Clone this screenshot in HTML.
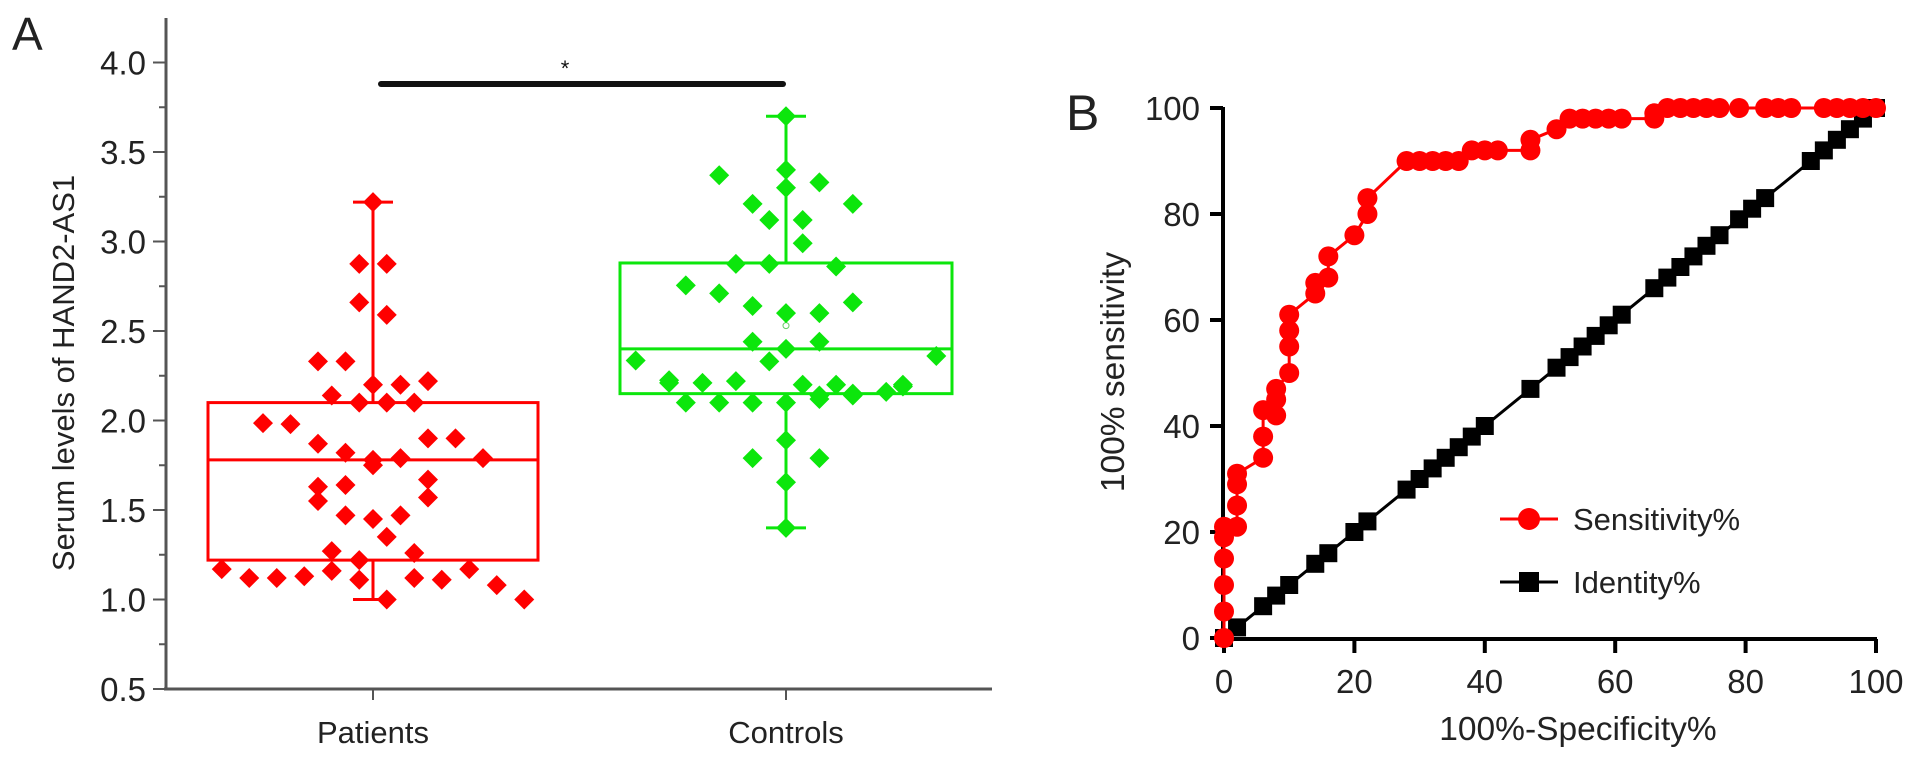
<!DOCTYPE html>
<html><head><meta charset="utf-8"><style>
html,body{margin:0;padding:0;background:#fff;}
svg{display:block;font-family:"Liberation Sans",Arial,sans-serif;}
</style></head><body>
<svg id="fig" width="1913" height="761" viewBox="0 0 1913 761">
<text x="12" y="50" font-size="46" fill="#222">A</text>
<text x="1066" y="130" font-size="50" fill="#222">B</text>
<g id="panelA"></g>
<g id="panelB"></g>
</svg>
<script>
// ---- Panel A data ----
const categories = ["Patients", "Controls"];
const yTicksA = [0.5, 1.0, 1.5, 2.0, 2.5, 3.0, 3.5, 4.0];
const boxPatients = [1.0, 1.22, 1.78, 2.10, 3.22]; // min,q1,median,q3,max
const boxControls = [1.40, 2.15, 2.40, 2.88, 3.70];
const meanControls = 2.53;
const patientValues = [1.985,1.98,1.87,1.82,1.78,1.75,1.79,1.90,1.90,1.79,2.14,2.10,2.10,2.10,2.20,2.20,2.22,1.63,1.55,1.64,1.67,1.57,1.47,1.45,1.47,1.35,1.27,1.22,1.26,1.17,1.12,1.12,1.13,1.16,1.11,1.00,1.12,1.11,1.17,1.08,1.00,3.22,2.875,2.875,2.66,2.59,2.33,2.33];
const patientCols   = [-4,-3,-2,-1,0,0,1,2,3,4,-1.5,-0.5,0.5,1.5,0,1,2,-2,-2,-1,2,2,-1,0,1,0.5,-1.5,-0.5,1.5,-5.5,-4.5,-3.5,-2.5,-1.5,-0.5,0.5,1.5,2.5,3.5,4.5,5.5,0,-0.5,0.5,-0.5,0.5,-2,-1];
const controlValues = [3.70,3.37,3.40,3.30,3.33,3.21,3.21,3.12,3.12,2.99,2.875,2.875,2.86,2.755,2.71,2.64,2.60,2.60,2.66,2.44,2.44,2.40,2.335,2.33,2.36,2.225,2.21,2.22,2.20,2.20,2.20,2.14,2.12,2.10,2.10,2.10,2.10,2.14,2.15,2.16,2.21,2.19,1.89,1.79,1.79,1.655,1.40];
const controlCols   = [0,-2,0,0,1,-1,2,-0.5,0.5,0.5,-1.5,-0.5,1.5,-3,-2,-1,0,1,2,-1,1,0,-4.5,-0.5,4.5,-3.5,-2.5,-1.5,0.5,1.5,3.5,2,1,-3,-2,-1,0,1,2,3,-3.5,3.5,0,-1,1,0,0];
const sigLabel = "*";

// ---- Panel B data ----
const xTicksB = [0, 20, 40, 60, 80, 100];
const yTicksB = [0, 20, 40, 60, 80, 100];
const sensFPR = [0,0,0,0,0,0,2,2,2,2,6,6,6,8,8,8,10,10,10,10,14,14,16,16,20,22,22,28,30,32,34,36,38,40,42,47,47,51,53,55,57,59,61,66,66,68,70,72,74,76,79,83,85,87,92,94,96,98,100];
const sensTPR = [0,5,10,15,19,21,21,25,29,31,34,38,43,42,45,47,50,55,58,61,65,67,68,72,76,80,83,90,90,90,90,90,92,92,92,92,94,96,98,98,98,98,98,98,99,100,100,100,100,100,100,100,100,100,100,100,100,100,100];
const identVals = [0,2,6,8,10,14,16,20,22,28,30,32,34,36,38,40,47,51,53,55,57,59,61,66,68,70,72,74,76,79,81,83,90,92,94,96,98,100];
const legendLabels = ["Sensitivity%", "Identity%"];

const NS = "http://www.w3.org/2000/svg";
function mk(parent, tag, attrs, text) {
  const el = document.createElementNS(NS, tag);
  for (const k in attrs) el.setAttribute(k, attrs[k]);
  if (text !== undefined) el.textContent = text;
  parent.appendChild(el);
  return el;
}

// ===== Panel A =====
const A = document.getElementById("panelA");
const yA = v => 689 - (v - 0.5) * 179;
const xCat = i => [373, 786][i];
const colStep = [27.5, 33.4];
const axA = "#555";
let e;
e = mk(A, "line", {x1:166, y1:18, x2:166, y2:690, stroke:axA, "stroke-width":3});


e = mk(A, "line", {x1:164, y1:689, x2:992, y2:689, stroke:axA, "stroke-width":3});


yTicksA.forEach(v => {
  e = mk(A, "line", {x1:153, y1:yA(v), x2:166, y2:yA(v), stroke:axA, "stroke-width":2});
  
  
  if (v < 4.0) {
    e = mk(A, "line", {x1:159, y1:yA(v + 0.25), x2:166, y2:yA(v + 0.25), stroke:axA, "stroke-width":2});
    
    
  }
  e = mk(A, "text", {x:146, y:yA(v) + 12, "font-size":33, "text-anchor":"end", fill:"#222"}, v.toFixed(1));
  
  
});
e = mk(A, "text", {x:0, y:0, "font-size":31, "text-anchor":"middle", fill:"#222", transform:"translate(74,373) rotate(-90)"}, "Serum levels of HAND2-AS1");


categories.forEach((c, i) => {
  e = mk(A, "line", {x1:xCat(i), y1:689, x2:xCat(i), y2:700, stroke:axA, "stroke-width":2});
  
  
  e = mk(A, "text", {x:xCat(i), y:743, "font-size":31, "text-anchor":"middle", fill:"#222"}, c);
  
  
});

function drawBox(i, b, color, halfW, name) {
  const g = mk(A, "g", {});
  
  
  const cx = xCat(i);
  mk(g, "rect", {x:cx - halfW, y:yA(b[3]), width:2*halfW, height:yA(b[1]) - yA(b[3]), fill:"none", stroke:color, "stroke-width":3});
  mk(g, "line", {x1:cx - halfW, y1:yA(b[2]), x2:cx + halfW, y2:yA(b[2]), stroke:color, "stroke-width":3});
  mk(g, "line", {x1:cx, y1:yA(b[3]), x2:cx, y2:yA(b[4]), stroke:color, "stroke-width":3});
  mk(g, "line", {x1:cx, y1:yA(b[1]), x2:cx, y2:yA(b[0]), stroke:color, "stroke-width":3});
  mk(g, "line", {x1:cx - 20, y1:yA(b[4]), x2:cx + 20, y2:yA(b[4]), stroke:color, "stroke-width":3});
  mk(g, "line", {x1:cx - 20, y1:yA(b[0]), x2:cx + 20, y2:yA(b[0]), stroke:color, "stroke-width":3});
}
drawBox(0, boxPatients, "#f00", 165, "patients-box");
drawBox(1, boxControls, "#0ce60c", 166, "controls-box");
e = mk(A, "circle", {cx:xCat(1), cy:yA(meanControls), r:3, fill:"none", stroke:"#6c6", "stroke-width":1});



function diamond(cx, cy, r) { return `${cx},${cy-r} ${cx+r},${cy} ${cx},${cy+r} ${cx-r},${cy}`; }
patientValues.forEach((v, k) => {
  e = mk(A, "polygon", {points:diamond(xCat(0) + patientCols[k]*colStep[0], yA(v), 10), fill:"#f00"});
  
  
});
controlValues.forEach((v, k) => {
  e = mk(A, "polygon", {points:diamond(xCat(1) + controlCols[k]*colStep[1], yA(v), 10), fill:"#0ce60c"});
  
  
});
e = mk(A, "line", {x1:381, y1:84, x2:783, y2:84, stroke:"#111", "stroke-width":6, "stroke-linecap":"round"});


e = mk(A, "text", {x:565, y:76, "font-size":22, "text-anchor":"middle", fill:"#111"}, sigLabel);



// ===== Panel B =====
const B = document.getElementById("panelB");
const xB = v => 1224 + v * 6.52;
const yB = v => 638 - v * 5.3;
e = mk(B, "line", {x1:1223, y1:yB(100) - 1, x2:1223, y2:640, stroke:"#000", "stroke-width":4});


e = mk(B, "line", {x1:1221, y1:639, x2:xB(100) + 1, y2:639, stroke:"#000", "stroke-width":4});


yTicksB.forEach(v => {
  e = mk(B, "line", {x1:1210, y1:yB(v), x2:1223, y2:yB(v), stroke:"#000", "stroke-width":4});
  
  
  e = mk(B, "text", {x:1200, y:yB(v) + 12, "font-size":33, "text-anchor":"end", fill:"#222"}, String(v));
  
  
});
xTicksB.forEach(v => {
  e = mk(B, "line", {x1:xB(v), y1:639, x2:xB(v), y2:653, stroke:"#000", "stroke-width":4});
  
  
  e = mk(B, "text", {x:xB(v), y:693, "font-size":33, "text-anchor":"middle", fill:"#222"}, String(v));
  
  
});
e = mk(B, "text", {x:0, y:0, "font-size":33.5, "text-anchor":"middle", fill:"#222", transform:"translate(1124,372) rotate(-90)"}, "100% sensitivity");


e = mk(B, "text", {x:1578, y:740, "font-size":33.5, "text-anchor":"middle", fill:"#222"}, "100%-Specificity%");



// identity series
e = mk(B, "polyline", {points:identVals.map(v => `${xB(v)},${yB(v)}`).join(" "), fill:"none", stroke:"#000", "stroke-width":3});


identVals.forEach(v => {
  e = mk(B, "rect", {x:xB(v) - 9, y:yB(v) - 9, width:18, height:18, fill:"#000"});
  
  
});
// sensitivity series
e = mk(B, "polyline", {points:sensFPR.map((v, k) => `${xB(v)},${yB(sensTPR[k])}`).join(" "), fill:"none", stroke:"#f00", "stroke-width":3});


sensFPR.forEach((v, k) => {
  e = mk(B, "circle", {cx:xB(v), cy:yB(sensTPR[k]), r:10, fill:"#f00"});
  
  
});

// legend
const legY = [519, 582];
legendLabels.forEach((lab, k) => {
  const g = mk(B, "g", {});
  
  
  const col = k === 0 ? "#f00" : "#000";
  mk(g, "line", {x1:1500, y1:legY[k], x2:1558, y2:legY[k], stroke:col, "stroke-width":3});
  if (k === 0) mk(g, "circle", {cx:1529, cy:legY[k], r:11, fill:col});
  else mk(g, "rect", {x:1519, y:legY[k] - 10, width:20, height:20, fill:col});
  mk(g, "text", {x:1573, y:legY[k] + 11, "font-size":31, fill:"#222"}, lab);
});
</script>
</body></html>
